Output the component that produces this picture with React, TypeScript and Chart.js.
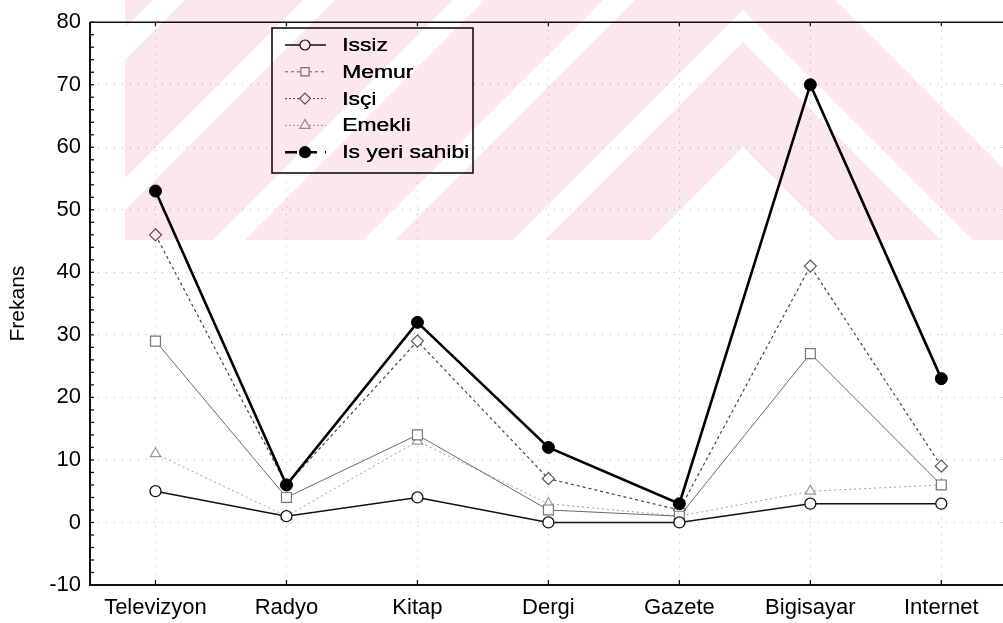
import React, { useEffect, useRef } from 'react';
import { Chart, registerables } from 'chart.js';

Chart.register(...registerables);

const categories = ['Televizyon', 'Radyo', 'Kitap', 'Dergi', 'Gazete', 'Bigisayar', 'Internet'];
const seriesNames = ['Issiz', 'Memur', 'Isçi', 'Emekli', 'Is yeri sahibi'];
const issiz = [5, 1, 4, 0, 0, 3, 3];
const memur = [29, 4, 14, 2, 1, 27, 6];
const isci = [46, 6, 29, 7, 2, 41, 9];
const emekli = [11, 1, 13, 3, 1, 5, 6];
const isYeriSahibi = [53, 6, 32, 12, 3, 70, 23];
const yTickValues = [-10, 0, 10, 20, 30, 40, 50, 60, 70, 80];
const yTitle = 'Frekans';

const FONT = "'Liberation Sans', Arial, sans-serif";

function drawWatermark(ctx: CanvasRenderingContext2D) {
  const cx = 743, x0 = 125, x1 = 1020, yMax = 240;
  ctx.save();
  ctx.beginPath();
  ctx.rect(x0, 0, x1 - x0, yMax);
  // top-right corner stays white
  ctx.moveTo(835, 0);
  ctx.lineTo(x1, 0);
  ctx.lineTo(x1, x1 - 835);
  ctx.closePath();
  ctx.clip('evenodd');
  ctx.globalCompositeOperation = 'multiply';
  ctx.fillStyle = '#fce7ec';
  for (let k = -5; k <= 1; k++) {
    const a = -108 + 150 * k;
    const b = Math.min(10 + 150 * k, 147);
    if (b <= a) continue;
    ctx.beginPath();
    ctx.moveTo(x0, a + (cx - x0));
    ctx.lineTo(cx, a);
    ctx.lineTo(x1, a + (x1 - cx));
    ctx.lineTo(x1, b + (x1 - cx));
    ctx.lineTo(cx, b);
    ctx.lineTo(x0, b + (cx - x0));
    ctx.closePath();
    ctx.fill();
  }
  ctx.restore();
}

function drawMarker(ctx: CanvasRenderingContext2D, style: string, x: number, y: number, r: number, fill: string, stroke: string) {
  ctx.save();
  ctx.setLineDash([]);
  ctx.fillStyle = fill;
  ctx.strokeStyle = stroke;
  ctx.lineWidth = 1.2;
  ctx.beginPath();
  if (style === 'circle') {
    ctx.arc(x, y, r, 0, Math.PI * 2);
  } else if (style === 'rect') {
    ctx.rect(x - r * 0.75, y - r * 0.75, r * 1.5, r * 1.5);
  } else if (style === 'rectRot') {
    ctx.moveTo(x, y - r);
    ctx.lineTo(x + r, y);
    ctx.lineTo(x, y + r);
    ctx.lineTo(x - r, y);
    ctx.closePath();
  } else if (style === 'triangle') {
    ctx.moveTo(x, y - r);
    ctx.lineTo(x + r * 0.87, y + r * 0.5);
    ctx.lineTo(x - r * 0.87, y + r * 0.5);
    ctx.closePath();
  }
  ctx.fill();
  ctx.stroke();
  ctx.restore();
}

const decorPlugin = {
  id: 'decor',
  beforeDraw(chart: any) {
    const { ctx, width, height } = chart;
    ctx.save();
    ctx.fillStyle = '#ffffff';
    ctx.fillRect(0, 0, width, height);
    ctx.restore();
  },
  afterDatasetsDraw(chart: any) {
    const { ctx, chartArea, scales } = chart;
    const { left, top, right, bottom } = chartArea;
    const x = scales.x;
    const y = scales.y;
    ctx.save();
    ctx.strokeStyle = '#111';
    ctx.lineWidth = 1.3;
    ctx.setLineDash([]);
    // minor ticks on the left axis
    for (let v = yTickValues[0]; v <= yTickValues[yTickValues.length - 1]; v += 2) {
      const py = y.getPixelForValue(v);
      ctx.beginPath();
      ctx.moveTo(left, py);
      ctx.lineTo(left + 4, py);
      ctx.stroke();
    }
    // category ticks on bottom and top
    categories.forEach((_, i) => {
      const px = x.getPixelForValue(i);
      ctx.beginPath();
      ctx.moveTo(px, bottom);
      ctx.lineTo(px, bottom - 5);
      ctx.moveTo(px, top);
      ctx.lineTo(px, top + 4);
      ctx.stroke();
    });
    // frame
    ctx.lineWidth = 2;
    ctx.beginPath();
    ctx.moveTo(left, top);
    ctx.lineTo(left, bottom);
    ctx.lineTo(right, bottom);
    ctx.stroke();
    ctx.lineWidth = 1.6;
    ctx.beginPath();
    ctx.moveTo(left, top);
    ctx.lineTo(right, top);
    ctx.lineTo(right, bottom);
    ctx.stroke();

    // legend
    const bx = 272, by = 28, bw = 201, bh = 145;
    ctx.fillStyle = '#ffffff';
    ctx.fillRect(bx, by, bw, bh);
    ctx.lineWidth = 1.6;
    ctx.strokeStyle = '#111';
    ctx.strokeRect(bx, by, bw, bh);
    const ds = chart.data.datasets;
    ds.forEach((d: any, row: number) => {
      const cy = 45 + row * 26.8;
      ctx.save();
      ctx.strokeStyle = d.borderColor;
      ctx.lineWidth = d.legendLineWidth;
      ctx.setLineDash(d.legendDash);
      ctx.beginPath();
      ctx.moveTo(285, cy);
      ctx.lineTo(326, cy);
      ctx.stroke();
      ctx.restore();
      drawMarker(ctx, d.pointStyle, 305, cy, d.legendR, d.pointBackgroundColor, d.pointBorderColor);
      ctx.save();
      ctx.fillStyle = '#000';
      ctx.font = `18px ${FONT}`;
      ctx.textBaseline = 'middle';
      ctx.textAlign = 'left';
      ctx.translate(342, cy + 1);
      ctx.scale(1.27, 1);
      ctx.fillText(d.label, 0, 0);
      ctx.fillText(d.label, 0.3, 0);
      ctx.restore();
    });
    ctx.restore();
  },
  afterDraw(chart: any) {
    drawWatermark(chart.ctx);
  },
};

export default function App() {
  const canvasRef = useRef<HTMLCanvasElement | null>(null);

  useEffect(() => {
    const canvas = canvasRef.current;
    if (!canvas) return;
    const chart = new Chart(canvas, {
      type: 'line',
      data: {
        labels: categories,
        datasets: [
          {
            label: seriesNames[0],
            data: issiz,
            borderColor: '#111',
            borderWidth: 1.6,
            pointStyle: 'circle',
            pointRadius: 5.5,
            pointBackgroundColor: '#ffffff',
            pointBorderColor: '#111',
            pointBorderWidth: 1.3,
            order: 1,
            legendDash: [],
            legendLineWidth: 1.3,
            legendR: 5,
          },
          {
            label: seriesNames[1],
            data: memur,
            borderColor: '#6a6a6a',
            borderWidth: 1,
            pointStyle: 'rect',
            pointRadius: 7,
            pointBackgroundColor: '#ffffff',
            pointBorderColor: '#777',
            pointBorderWidth: 1.2,
            order: 2,
            legendDash: [3, 3],
            legendLineWidth: 1,
            legendR: 5.5,
          },
          {
            label: seriesNames[2],
            data: isci,
            borderColor: '#444',
            borderWidth: 1.2,
            borderDash: [3, 3],
            pointStyle: 'rectRot',
            pointRadius: 6,
            pointBackgroundColor: '#ffffff',
            pointBorderColor: '#555',
            pointBorderWidth: 1.2,
            order: 3,
            legendDash: [2, 2],
            legendLineWidth: 1,
            legendR: 5.5,
          },
          {
            label: seriesNames[3],
            data: emekli,
            borderColor: '#a0a0a0',
            borderWidth: 1,
            borderDash: [2, 3],
            pointStyle: 'triangle',
            pointRadius: 6,
            pointBackgroundColor: '#ffffff',
            pointBorderColor: '#999',
            pointBorderWidth: 1.2,
            order: 4,
            legendDash: [2, 2],
            legendLineWidth: 1,
            legendR: 6,
          },
          {
            label: seriesNames[4],
            data: isYeriSahibi,
            borderColor: '#000',
            borderWidth: 2.6,
            pointStyle: 'circle',
            pointRadius: 6,
            pointBackgroundColor: '#000',
            pointBorderColor: '#000',
            pointBorderWidth: 1,
            order: 0,
            legendDash: [12, 8],
            legendLineWidth: 2.6,
            legendR: 5.5,
          },
        ] as any,
      },
      options: {
        animation: false,
        responsive: false,
        maintainAspectRatio: false,
        devicePixelRatio: 1,
        layout: { padding: { top: 15, right: 4, left: 0, bottom: 0 } },
        elements: { line: { tension: 0 } },
        plugins: {
          legend: { display: false },
          tooltip: { enabled: false },
        },
        scales: {
          x: {
            type: 'category',
            offset: true,
            grid: { offset: false, color: '#b8b8b8', lineWidth: 1, drawTicks: false },
            border: { display: false, dash: [1, 7] },
            ticks: {
              color: '#000',
              font: { family: FONT, size: 22 },
              padding: 10,
              maxRotation: 0,
              autoSkip: false,
            },
            afterFit: (s: any) => {
              s.height = 38;
            },
          },
          y: {
            min: yTickValues[0],
            max: yTickValues[yTickValues.length - 1],
            afterBuildTicks: (s: any) => {
              s.ticks = yTickValues.map((v) => ({ value: v }));
            },
            grid: { color: '#b8b8b8', lineWidth: 1, drawTicks: false },
            border: { display: false, dash: [1, 7] },
            ticks: {
              color: '#000',
              font: { family: FONT, size: 22 },
              padding: 9,
              callback: (v: any) => String(v),
            },
            title: {
              display: true,
              text: yTitle,
              color: '#000',
              font: { family: FONT, size: 21 },
              padding: { top: 6, bottom: 0 },
            },
            afterFit: (s: any) => {
              s.width = 90;
            },
          },
        },
      } as any,
      plugins: [decorPlugin],
    });
    return () => {
      chart.destroy();
    };
  }, []);

  return (
    <div
      style={{
        position: 'absolute',
        left: 0,
        top: 0,
        width: 1003,
        height: 623,
        overflow: 'hidden',
        background: '#fff',
      }}
    >
      <canvas ref={canvasRef} width={1015} height={623} style={{ display: 'block' }} />
    </div>
  );
}
